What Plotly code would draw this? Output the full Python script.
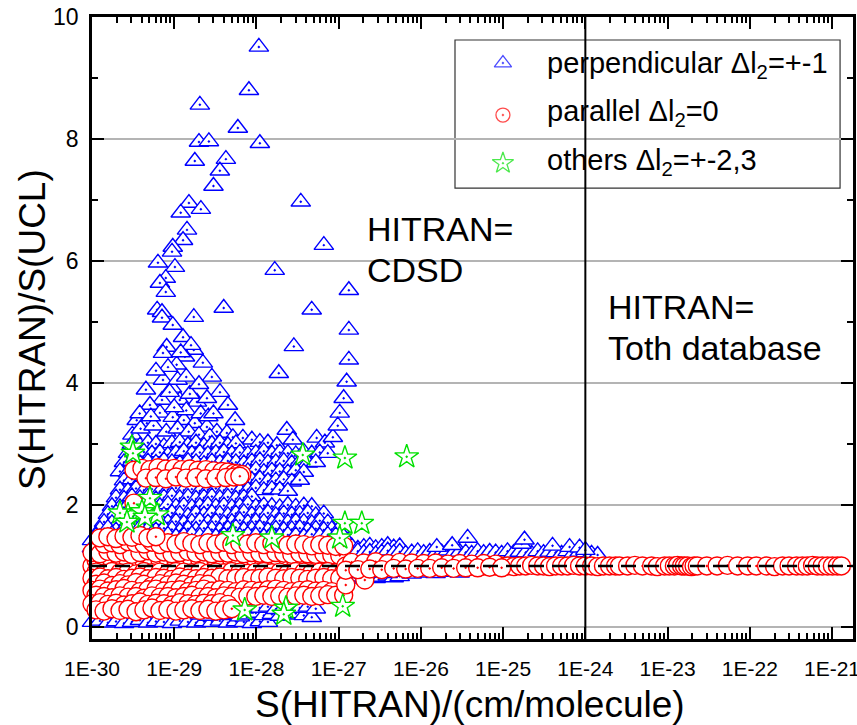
import plotly.graph_objects as go

# ---------------- perpendicular band (delta l2 = +-1) ----------------
perp_S_upper = [1.07e-28, 8.1e-29, 2.05e-29, 5.94e-29, 2.0e-29, 2.64e-29, 1.1e-28, 1.78e-29, 4.25e-29, 3.59e-29,
                3.0e-29, 3.46e-28, 1.51e-29, 1.2e-29, 2.11e-29, 1.43e-29, 1.28e-29, 9.6e-30, 6.6e-28, 9.4e-30,
                6.34e-30, 1.02e-29, 7.9e-30, 6.7e-30, 7.9e-30, 1.67e-28, 1.33e-27, 6.2e-30, 7.1e-30, 7.1e-30,
                9.6e-30, 1.73e-29, 4.0e-29, 4.7e-28, 1.33e-27, 1.28e-29, 1.73e-29, 8.1e-30, 7.3e-30, 2.85e-28,
                1.33e-27, 1.35e-29, 2.23e-29, 1.07e-29, 8.4e-30, 1.87e-28, 2.87e-29, 1.25e-27, 7.3e-30, 4.53e-30,
                9.4e-30, 3.6e-29, 1.15e-27, 1.89e-29, 1.17e-29, 7.1e-30, 4.5e-29, 1.03e-27, 5.07e-30, 5.5e-29,
                3.5e-30, 4.65e-30, 6.7e-30, 9.6e-30, 1.31e-29, 1.78e-29, 2.5e-29, 3.3e-29, 4.37e-29, 5.17e-29,
                6.84e-29, 8.8e-29, 1.1e-28, 1.38e-28, 1.77e-28, 2.34e-28, 2.77e-28, 5.4e-28, 6.8e-28, 8.5e-28,
                9.75e-28, 3.1e-30, 3.9e-30, 5.6e-30, 8.0e-30, 1.1e-29, 1.5e-29, 2.0e-29, 2.7e-29, 3.8e-30,
                5.2e-30, 1.4e-29, 2.1e-29, 2.6e-29, 1.0e-29, 1.55e-29, 6.0e-30, 1.1e-29, 1.4e-29, 2.0e-29,
                1.6e-29, 1.2e-29, 8.8e-30, 2.5e-29, 3.0e-29]
perp_R_upper = [9.51, 8.80, 8.56, 8.18, 7.95, 7.96, 7.93, 7.64, 7.67, 7.48,
                7.23, 6.97, 6.95, 6.79, 6.85, 6.51, 6.34, 6.23, 6.26, 6.15,
                5.97, 5.90, 5.72, 5.64, 5.49, 5.85, 5.52, 5.20, 5.16, 5.07,
                4.95, 5.08, 5.23, 5.20, 4.87, 4.75, 4.54, 4.59, 4.49, 4.60,
                4.38, 4.43, 4.33, 4.30, 4.26, 4.16, 4.10, 4.02, 4.05, 3.89,
                3.92, 3.85, 3.75, 3.69, 3.72, 3.72, 3.64, 3.51, 3.64, 3.39,
                3.39, 3.34, 3.51, 3.44, 3.39, 3.34, 3.28, 3.20, 3.18, 3.11,
                3.10, 3.07, 3.03, 3.02, 2.98, 3.23, 3.07, 3.10, 3.02, 3.11,
                3.30, 3.15, 3.25, 3.30, 3.20, 3.25, 3.20, 3.15, 3.12, 3.50,
                3.45, 3.55, 3.50, 3.45, 3.60, 3.82, 4.20, 4.05, 4.10, 3.98,
                4.62, 4.50, 3.85, 3.75, 3.50]

perp_S_cloud = [
    # ~3.0
    3.06e-30, 3.83e-30, 4.79e-30, 5.99e-30, 7.50e-30, 9.38e-30, 1.17e-29, 1.47e-29, 1.84e-29, 2.30e-29,
    2.87e-29, 3.59e-29, 4.49e-29, 5.62e-29,
    # ~2.85
    2.74e-30, 3.43e-30, 4.28e-30, 5.36e-30, 6.70e-30, 8.38e-30, 1.05e-29, 1.31e-29, 1.64e-29, 2.05e-29,
    2.57e-29, 3.21e-29, 4.02e-29, 5.02e-29, 6.28e-29, 7.86e-29, 9.83e-29, 1.23e-28, 1.54e-28, 1.92e-28,
    2.41e-28, 3.01e-28, 3.77e-28, 4.71e-28, 5.89e-28, 7.37e-28,
    # ~2.7
    2.45e-30, 3.06e-30, 3.83e-30, 4.79e-30, 5.99e-30, 7.50e-30, 9.38e-30, 1.17e-29, 1.47e-29, 1.84e-29,
    2.30e-29, 2.87e-29, 3.59e-29, 4.49e-29, 5.62e-29, 7.03e-29, 8.79e-29, 1.10e-28, 1.38e-28, 1.72e-28,
    2.15e-28, 2.69e-28, 3.37e-28, 4.21e-28, 5.27e-28,
    # ~2.55
    2.19e-30, 2.74e-30, 3.43e-30, 4.28e-30, 5.36e-30, 6.70e-30, 8.38e-30, 1.05e-29, 1.31e-29, 1.64e-29,
    2.05e-29, 2.57e-29, 3.21e-29, 4.02e-29, 5.02e-29, 6.28e-29, 7.86e-29, 9.83e-29, 1.23e-28, 1.54e-28,
    1.92e-28, 2.41e-28, 3.01e-28, 3.77e-28,
    # ~2.4
    2.45e-30, 3.06e-30, 3.83e-30, 4.79e-30, 5.99e-30, 7.50e-30, 9.38e-30, 1.17e-29, 1.47e-29, 1.84e-29,
    2.30e-29, 2.87e-29, 3.59e-29, 4.49e-29, 5.62e-29, 7.03e-29, 8.79e-29, 1.10e-28, 1.38e-28, 1.72e-28,
    2.15e-28, 2.69e-28, 3.37e-28,
    # ~2.25
    2.19e-30, 2.74e-30, 3.43e-30, 4.28e-30, 5.36e-30, 6.70e-30, 8.38e-30, 1.05e-29, 1.31e-29, 1.64e-29,
    2.05e-29, 2.57e-29, 3.21e-29, 4.02e-29, 5.02e-29, 6.28e-29, 7.86e-29, 9.83e-29, 1.23e-28, 1.54e-28,
    1.92e-28, 2.41e-28,
    # ~2.12
    1.96e-30, 2.45e-30, 3.06e-30, 3.83e-30, 4.79e-30, 5.99e-30, 7.50e-30, 9.38e-30, 1.17e-29, 1.47e-29,
    1.84e-29, 2.30e-29, 2.87e-29, 3.59e-29, 4.49e-29, 5.62e-29, 7.03e-29, 8.79e-29,
    # ~1.98
    1.75e-30, 2.19e-30, 2.74e-30, 3.43e-30, 4.28e-30, 5.36e-30, 6.70e-30, 8.38e-30, 1.05e-29, 1.31e-29,
    1.64e-29, 2.05e-29, 2.57e-29, 3.21e-29, 4.02e-29, 5.02e-29, 6.28e-29, 7.86e-29, 9.83e-29, 1.23e-28,
    1.54e-28, 1.92e-28, 2.41e-28, 3.01e-28, 3.77e-28, 4.71e-28,
    # ~1.85
    1.56e-30, 1.96e-30, 2.45e-30, 3.06e-30, 3.83e-30, 4.79e-30, 5.99e-30, 7.50e-30, 9.38e-30, 1.17e-29,
    1.47e-29, 1.84e-29, 2.30e-29, 2.87e-29, 3.59e-29, 4.49e-29, 5.62e-29, 7.03e-29, 8.79e-29, 1.10e-28,
    1.38e-28, 1.72e-28, 2.15e-28, 2.69e-28, 3.37e-28, 4.21e-28, 5.27e-28, 6.59e-28,
    # ~1.72
    1.40e-30, 1.75e-30, 2.19e-30, 2.74e-30, 3.43e-30, 4.28e-30, 5.36e-30, 6.70e-30, 8.38e-30, 1.05e-29,
    1.31e-29, 1.64e-29, 2.05e-29, 2.57e-29, 3.21e-29, 4.02e-29, 5.02e-29, 6.28e-29, 7.86e-29, 9.83e-29,
    1.23e-28, 1.54e-28, 1.92e-28, 2.41e-28, 3.01e-28, 3.77e-28, 4.71e-28, 5.89e-28, 7.37e-28,
    # ~1.6
    1.25e-30, 1.56e-30, 1.96e-30, 2.45e-30, 3.06e-30, 3.83e-30, 4.79e-30, 5.99e-30, 7.50e-30, 9.38e-30,
    1.17e-29, 1.47e-29, 1.84e-29, 2.30e-29, 2.87e-29, 3.59e-29, 4.49e-29, 5.62e-29, 7.03e-29, 8.79e-29,
    1.10e-28, 1.38e-28, 1.72e-28, 2.15e-28, 2.69e-28, 3.37e-28, 4.21e-28, 5.27e-28, 6.59e-28, 8.24e-28,
    1.03e-27,
    # ~1.5
    1.12e-30, 1.40e-30, 1.75e-30, 2.19e-30, 2.74e-30, 3.43e-30, 4.28e-30, 5.36e-30, 6.70e-30, 8.38e-30,
    1.05e-29, 1.31e-29, 1.64e-29, 2.05e-29, 2.57e-29, 3.21e-29, 4.02e-29, 5.02e-29, 6.28e-29, 7.86e-29,
    9.83e-29, 1.23e-28, 1.54e-28, 1.92e-28, 2.41e-28, 3.01e-28, 3.77e-28, 4.71e-28, 5.89e-28, 7.37e-28,
    9.22e-28, 1.15e-27,
    # left edge
    1.00e-30, 1.00e-30,
]
perp_R_cloud = [
    3.00, 2.97, 3.02, 3.00, 2.96, 3.01, 3.03, 2.98, 3.02, 2.97, 3.00, 3.02, 2.98, 3.01,
    2.85, 2.83, 2.87, 2.84, 2.86, 2.82, 2.85, 2.88, 2.84, 2.86, 2.83, 2.85, 2.87, 2.84, 2.86, 2.83,
    2.85, 2.88, 2.84, 2.86, 2.85, 2.83, 2.87, 2.84, 2.86, 2.85,
    2.70, 2.72, 2.68, 2.71, 2.69, 2.73, 2.70, 2.68, 2.72, 2.70, 2.67, 2.71, 2.69, 2.72, 2.70, 2.68,
    2.71, 2.73, 2.69, 2.70, 2.72, 2.68, 2.71, 2.69, 2.70,
    2.55, 2.53, 2.57, 2.54, 2.56, 2.52, 2.55, 2.58, 2.54, 2.56, 2.53, 2.55, 2.57, 2.54, 2.56, 2.53,
    2.55, 2.58, 2.54, 2.56, 2.55, 2.53, 2.57, 2.54,
    2.40, 2.42, 2.38, 2.41, 2.39, 2.43, 2.40, 2.38, 2.42, 2.40, 2.37, 2.41, 2.39, 2.42, 2.40, 2.38,
    2.41, 2.43, 2.39, 2.40, 2.42, 2.38, 2.41,
    2.25, 2.23, 2.27, 2.24, 2.26, 2.22, 2.25, 2.28, 2.24, 2.26, 2.23, 2.25, 2.27, 2.24, 2.26, 2.23,
    2.25, 2.28, 2.24, 2.26, 2.25, 2.23,
    2.12, 2.10, 2.14, 2.11, 2.13, 2.09, 2.12, 2.15, 2.11, 2.13, 2.10, 2.12, 2.14, 2.11, 2.13, 2.10,
    2.12, 2.14,
    1.98, 1.96, 2.00, 1.97, 1.99, 1.95, 1.98, 2.01, 1.97, 1.99, 1.96, 1.98, 2.00, 1.97, 1.99, 1.96,
    1.98, 2.01, 1.97, 1.99, 1.98, 1.96, 2.00, 1.97, 1.99, 1.98,
    1.85, 1.87, 1.83, 1.86, 1.84, 1.88, 1.85, 1.83, 1.87, 1.85, 1.82, 1.86, 1.84, 1.87, 1.85, 1.83,
    1.86, 1.88, 1.84, 1.85, 1.87, 1.83, 1.86, 1.84, 1.85, 1.87, 1.83, 1.86,
    1.72, 1.70, 1.74, 1.71, 1.73, 1.69, 1.72, 1.75, 1.71, 1.73, 1.70, 1.72, 1.74, 1.71, 1.73, 1.70,
    1.72, 1.75, 1.71, 1.73, 1.72, 1.70, 1.74, 1.71, 1.73, 1.72, 1.70, 1.74, 1.71,
    1.60, 1.62, 1.58, 1.61, 1.59, 1.63, 1.60, 1.58, 1.62, 1.60, 1.57, 1.61, 1.59, 1.62, 1.60, 1.58,
    1.61, 1.63, 1.59, 1.60, 1.62, 1.58, 1.61, 1.59, 1.60, 1.62, 1.58, 1.61, 1.59, 1.60, 1.62,
    1.50, 1.48, 1.52, 1.49, 1.51, 1.47, 1.50, 1.53, 1.49, 1.51, 1.48, 1.50, 1.52, 1.49, 1.51, 1.48,
    1.50, 1.53, 1.49, 1.51, 1.50, 1.48, 1.52, 1.49, 1.51, 1.50, 1.48, 1.52, 1.49, 1.51, 1.50, 1.48,
    1.42, 1.30,
]

perp_S_low = [
    1.00e-30, 1.25e-30, 1.56e-30, 1.96e-30, 2.45e-30, 3.06e-30, 3.83e-30, 4.79e-30, 5.99e-30, 7.50e-30,
    9.38e-30, 1.17e-29, 1.47e-29, 1.84e-29, 2.30e-29, 2.87e-29, 3.59e-29, 4.49e-29, 5.62e-29, 7.03e-29,
    8.79e-29, 1.10e-28, 1.38e-28,
    2.05e-29, 2.57e-29, 3.21e-29, 4.02e-29, 5.02e-29, 6.28e-29, 7.86e-29, 9.83e-29, 1.23e-28, 1.54e-28,
    1.92e-28, 2.41e-28, 3.01e-28, 3.77e-28, 4.71e-28,
    5.62e-29, 7.03e-29, 8.79e-29, 1.10e-28, 1.38e-28, 1.72e-28, 2.15e-28, 2.69e-28, 3.37e-28, 4.21e-28,
    5.27e-28,
    3.37e-28, 4.21e-28, 5.27e-28, 6.59e-28, 8.24e-28, 1.03e-27,
    1.22e-27, 1.44e-27, 1.71e-27, 2.02e-27, 2.39e-27, 2.82e-27, 3.34e-27, 3.95e-27, 4.67e-27, 5.52e-27,
    1.44e-27, 2.02e-27, 2.82e-27, 3.95e-27, 5.52e-27, 7.73e-27, 1.08e-26, 1.51e-26, 2.12e-26, 2.96e-26,
]
perp_R_low = [
    0.08, 0.10, 0.07, 0.09, 0.06, 0.08, 0.11, 0.07, 0.09, 0.08, 0.06, 0.10, 0.08, 0.07, 0.09, 0.08,
    0.10, 0.07, 0.09, 0.08, 0.06, 0.09, 0.08,
    0.20, 0.18, 0.22, 0.19, 0.21, 0.17, 0.20, 0.23, 0.19, 0.21, 0.18, 0.20, 0.22, 0.19, 0.16,
    0.32, 0.30, 0.34, 0.31, 0.33, 0.29, 0.32, 0.35, 0.31, 0.33, 0.30,
    0.72, 0.70, 0.74, 0.71, 0.73, 0.70,
    0.80, 0.82, 0.79, 0.81, 0.83, 0.80, 0.82, 0.84, 0.81, 0.83,
    0.88, 0.87, 0.89, 0.88, 0.90, 0.87, 0.89, 0.88, 0.90, 0.89,
]

perp_S_band = [
    1.22e-27, 1.44e-27, 1.71e-27, 2.02e-27, 2.39e-27, 2.82e-27, 3.34e-27, 3.95e-27, 4.67e-27, 5.52e-27,
    1.22e-27, 1.44e-27, 1.71e-27, 2.02e-27, 2.39e-27, 2.82e-27, 3.34e-27, 3.95e-27, 4.67e-27, 5.52e-27,
    6.53e-27, 7.73e-27, 9.14e-27, 1.08e-26, 1.28e-26, 1.51e-26, 1.79e-26, 2.12e-26, 2.50e-26, 2.96e-26,
    3.50e-26, 4.14e-26, 4.90e-26, 5.79e-26, 6.86e-26, 8.11e-26, 9.59e-26, 1.13e-25, 1.34e-25, 1.59e-25,
    1.88e-25, 2.22e-25, 2.63e-25, 3.10e-25, 3.67e-25, 4.34e-25, 5.14e-25, 6.08e-25, 7.19e-25, 8.50e-25,
    1.00e-24, 1.19e-24, 1.41e-24,
    1.56e-26, 2.40e-26, 3.70e-26, 1.68e-25, 1.82e-25, 3.99e-25, 6.43e-25, 8.50e-25, 1.00e-24,
]
perp_R_band = [
    1.30, 1.32, 1.28, 1.31, 1.33, 1.29, 1.31, 1.34, 1.30, 1.32,
    1.22, 1.20, 1.24, 1.21, 1.23, 1.19, 1.22, 1.25, 1.21, 1.23, 1.20, 1.22, 1.24, 1.21, 1.23, 1.20,
    1.22, 1.25, 1.21, 1.23, 1.22, 1.20, 1.24, 1.21, 1.23, 1.22, 1.20, 1.24, 1.21, 1.23, 1.22, 1.20,
    1.24, 1.21, 1.23, 1.22, 1.20, 1.24, 1.21, 1.23, 1.22, 1.20, 1.18,
    1.31, 1.34, 1.46, 1.36, 1.43, 1.33, 1.31, 1.30, 1.26,
]

# ---------------- parallel band (delta l2 = 0) ----------------
par_S_left = [
    # ~1.0
    1.00e-30, 1.25e-30, 1.56e-30, 1.96e-30, 2.45e-30, 3.06e-30, 3.83e-30, 4.79e-30, 5.99e-30, 7.50e-30,
    9.38e-30, 1.17e-29, 1.47e-29, 1.84e-29, 2.30e-29, 2.87e-29, 3.59e-29, 4.49e-29, 5.62e-29, 7.03e-29,
    8.79e-29, 1.10e-28, 1.38e-28, 1.72e-28, 2.15e-28, 2.69e-28, 3.37e-28, 4.21e-28, 5.27e-28, 6.59e-28,
    8.24e-28, 1.03e-27,
    # ~1.1
    1.12e-30, 1.40e-30, 1.75e-30, 2.19e-30, 2.74e-30, 3.43e-30, 4.28e-30, 5.36e-30, 6.70e-30, 8.38e-30,
    1.05e-29, 1.31e-29, 1.64e-29, 2.05e-29, 2.57e-29, 3.21e-29, 4.02e-29, 5.02e-29, 6.28e-29, 7.86e-29,
    9.83e-29, 1.23e-28, 1.54e-28, 1.92e-28, 2.41e-28, 3.01e-28, 3.77e-28, 4.71e-28, 5.89e-28, 7.37e-28,
    9.22e-28, 1.15e-27,
    # ~1.2
    1.00e-30, 1.25e-30, 1.56e-30, 1.96e-30, 2.45e-30, 3.06e-30, 3.83e-30, 4.79e-30, 5.99e-30, 7.50e-30,
    9.38e-30, 1.17e-29, 1.47e-29, 1.84e-29, 2.30e-29, 2.87e-29, 3.59e-29, 4.49e-29, 5.62e-29, 7.03e-29,
    8.79e-29, 1.10e-28, 1.38e-28, 1.72e-28, 2.15e-28, 2.69e-28, 3.37e-28, 4.21e-28, 5.27e-28, 6.59e-28,
    8.24e-28, 1.03e-27,
    # ~1.35
    1.40e-30, 1.75e-30, 2.19e-30, 2.74e-30, 3.43e-30, 4.28e-30, 5.36e-30, 6.70e-30, 8.38e-30, 1.05e-29,
    1.31e-29, 1.64e-29, 2.05e-29, 2.57e-29, 3.21e-29, 4.02e-29, 5.02e-29, 6.28e-29, 7.86e-29, 9.83e-29,
    1.23e-28, 1.54e-28, 1.92e-28, 2.41e-28, 3.01e-28, 3.77e-28, 4.71e-28, 5.89e-28, 7.37e-28, 9.22e-28,
    1.15e-27,
    # ~1.47
    1.25e-30, 1.56e-30, 1.96e-30, 2.45e-30, 3.06e-30, 3.83e-30, 4.79e-30, 5.99e-30,
    # ~0.9
    1.12e-30, 1.40e-30, 1.75e-30, 2.19e-30, 2.74e-30, 3.43e-30, 4.28e-30, 5.36e-30, 6.70e-30, 8.38e-30,
    1.05e-29, 1.31e-29, 1.64e-29, 2.05e-29, 2.57e-29, 3.21e-29, 4.02e-29, 5.02e-29, 6.28e-29, 7.86e-29,
    9.83e-29, 1.23e-28, 1.54e-28, 1.92e-28, 2.41e-28, 3.01e-28, 3.77e-28, 4.71e-28, 5.89e-28, 7.37e-28,
    9.22e-28, 1.15e-27,
    # ~0.8
    1.00e-30, 1.25e-30, 1.56e-30, 1.96e-30, 2.45e-30, 3.06e-30, 3.83e-30, 4.79e-30, 5.99e-30, 7.50e-30,
    9.38e-30, 1.17e-29, 1.47e-29, 1.84e-29, 2.30e-29, 2.87e-29, 3.59e-29, 4.49e-29, 5.62e-29, 7.03e-29,
    8.79e-29, 1.10e-28, 1.38e-28, 1.72e-28, 2.15e-28, 2.69e-28, 3.37e-28, 4.21e-28, 5.27e-28, 6.59e-28,
    8.24e-28, 1.03e-27,
    # ~0.7
    1.12e-30, 1.40e-30, 1.75e-30, 2.19e-30, 2.74e-30, 3.43e-30, 4.28e-30, 5.36e-30, 6.70e-30, 8.38e-30,
    1.05e-29, 1.31e-29, 1.64e-29, 2.05e-29, 2.57e-29,
    # ~0.6
    1.00e-30, 1.25e-30, 1.56e-30, 1.96e-30, 2.45e-30, 3.06e-30, 3.83e-30, 4.79e-30, 5.99e-30, 7.50e-30,
    9.38e-30, 1.17e-29, 1.47e-29, 1.84e-29, 2.30e-29, 2.87e-29, 3.59e-29, 4.49e-29, 5.62e-29, 7.03e-29,
    8.79e-29, 1.10e-28, 1.38e-28, 1.72e-28, 2.15e-28, 2.69e-28, 3.37e-28, 4.21e-28, 5.27e-28, 6.59e-28,
    8.24e-28,
    # ~0.5
    1.12e-30, 1.40e-30, 1.75e-30, 2.19e-30, 2.74e-30, 3.43e-30, 4.28e-30, 5.36e-30, 6.70e-30, 8.38e-30,
    1.05e-29, 1.31e-29, 1.64e-29, 2.05e-29, 2.57e-29, 3.21e-29, 4.02e-29, 5.02e-29, 6.28e-29, 7.86e-29,
    9.83e-29, 1.23e-28, 1.54e-28, 1.92e-28, 2.41e-28, 3.01e-28, 3.77e-28, 4.71e-28, 5.89e-28, 7.37e-28,
    9.22e-28, 1.15e-27,
    # ~0.38
    1.00e-30, 1.25e-30, 1.56e-30, 1.96e-30, 2.45e-30, 3.06e-30, 3.83e-30, 4.79e-30, 5.99e-30, 7.50e-30,
    9.38e-30, 1.17e-29, 1.47e-29, 1.84e-29, 2.30e-29, 2.87e-29, 3.59e-29, 4.49e-29,
    # ~0.28
    1.12e-30, 1.40e-30, 1.75e-30, 2.19e-30, 2.74e-30, 3.43e-30, 4.28e-30, 5.36e-30, 6.70e-30, 8.38e-30,
    1.05e-29, 1.31e-29, 1.64e-29, 2.05e-29, 2.57e-29, 3.21e-29, 4.02e-29, 5.02e-29,
    1.22e-27, 2.08e-27,
]
par_R_left = [
    1.00, 1.01, 0.99, 1.00, 1.02, 0.99, 1.00, 1.01, 0.98, 1.00, 1.01, 0.99, 1.00, 1.02, 1.00, 0.99,
    1.01, 1.00, 0.99, 1.01, 1.00, 1.00, 0.99, 1.01, 1.00, 1.00, 0.99, 1.01, 1.00, 1.00, 1.01, 1.00,
    1.10, 1.12, 1.09, 1.11, 1.10, 1.13, 1.09, 1.11, 1.10, 1.12, 1.09, 1.10, 1.11, 1.09, 1.12, 1.10,
    1.11, 1.09, 1.10, 1.12, 1.10, 1.09, 1.11, 1.10, 1.12, 1.09, 1.10, 1.11, 1.10, 1.09, 1.11, 1.10,
    1.22, 1.20, 1.24, 1.21, 1.23, 1.19, 1.22, 1.25, 1.21, 1.23, 1.20, 1.22, 1.24, 1.21, 1.23, 1.20,
    1.22, 1.21, 1.23, 1.20, 1.22, 1.21, 1.20, 1.22, 1.21, 1.19, 1.21, 1.20, 1.19, 1.20, 1.18, 1.17,
    1.36, 1.38, 1.35, 1.40, 1.37, 1.36, 1.39, 1.35, 1.38, 1.36, 1.40, 1.37, 1.35, 1.38, 1.36, 1.39,
    1.35, 1.37, 1.36, 1.38, 1.35, 1.37, 1.36, 1.34, 1.36, 1.35, 1.33, 1.35, 1.34, 1.32, 1.33,
    1.46, 1.48, 1.45, 1.49, 1.47, 1.50, 1.46, 1.48,
    0.90, 0.88, 0.91, 0.89, 0.90, 0.87, 0.91, 0.89, 0.90, 0.88, 0.91, 0.90, 0.89, 0.91, 0.88, 0.90,
    0.89, 0.91, 0.90, 0.88, 0.90, 0.91, 0.89, 0.90, 0.88, 0.91, 0.90, 0.89, 0.90, 0.91, 0.89, 0.90,
    0.80, 0.82, 0.79, 0.81, 0.78, 0.80, 0.82, 0.79, 0.81, 0.80, 0.78, 0.82, 0.80, 0.79, 0.81, 0.80,
    0.82, 0.79, 0.80, 0.81, 0.79, 0.80, 0.82, 0.80, 0.79, 0.81, 0.80, 0.78, 0.80, 0.81, 0.79, 0.80,
    0.70, 0.72, 0.68, 0.71, 0.69, 0.73, 0.70, 0.67, 0.71, 0.69, 0.72, 0.70, 0.68, 0.71, 0.70,
    0.60, 0.62, 0.59, 0.61, 0.63, 0.60, 0.58, 0.61, 0.62, 0.59, 0.60, 0.61, 0.58, 0.60, 0.62, 0.59,
    0.61, 0.60, 0.58, 0.61, 0.60, 0.59, 0.61, 0.62, 0.60, 0.58, 0.60, 0.61, 0.59, 0.60, 0.58,
    0.52, 0.50, 0.48, 0.51, 0.49, 0.50, 0.47, 0.51, 0.49, 0.50, 0.48, 0.50, 0.52, 0.49, 0.50, 0.48,
    0.51, 0.50, 0.49, 0.51, 0.50, 0.52, 0.50, 0.51, 0.49, 0.51, 0.52, 0.50, 0.51, 0.53, 0.52, 0.52,
    0.38, 0.40, 0.37, 0.39, 0.36, 0.38, 0.41, 0.37, 0.39, 0.38, 0.36, 0.40, 0.38, 0.37, 0.39, 0.38,
    0.40, 0.37,
    0.28, 0.26, 0.30, 0.27, 0.29, 0.25, 0.28, 0.31, 0.27, 0.29, 0.26, 0.28, 0.30, 0.27, 0.29, 0.26,
    0.28, 0.30,
    0.69, 0.77,
]

par_S_mid = [
    1.22e-27, 1.44e-27, 1.71e-27, 2.02e-27, 2.39e-27, 2.82e-27, 3.34e-27, 3.95e-27, 4.67e-27, 5.52e-27,
    6.53e-27, 7.73e-27, 9.14e-27, 1.08e-26, 1.28e-26, 1.51e-26, 1.79e-26, 2.12e-26, 2.50e-26, 2.96e-26,
    3.50e-26, 4.14e-26, 4.90e-26, 5.79e-26, 6.86e-26, 8.11e-26, 9.59e-26, 1.13e-25, 1.34e-25, 1.59e-25,
    1.88e-25, 2.22e-25, 2.63e-25, 3.10e-25, 3.67e-25, 4.34e-25, 5.14e-25, 6.08e-25, 7.19e-25, 8.50e-25,
    1.00e-24, 1.19e-24, 1.41e-24, 1.66e-24, 1.97e-24, 2.33e-24,
    1.44e-27, 2.02e-27, 2.82e-27, 3.95e-27, 5.52e-27, 7.73e-27, 1.08e-26, 1.51e-26, 2.12e-26, 2.96e-26,
    4.14e-26, 5.79e-26, 8.11e-26,
    1.22e-27, 1.71e-27, 2.39e-27, 3.34e-27, 4.67e-27, 6.53e-27, 9.14e-27, 1.28e-26, 1.79e-26, 2.50e-26,
    3.50e-26, 4.90e-26, 6.86e-26, 9.59e-26,
]
par_R_mid = [
    1.00, 1.01, 0.99, 1.00, 1.01, 1.00, 0.99, 1.00, 1.01, 1.00, 1.00, 0.99, 1.00, 1.01, 1.00, 1.00,
    0.99, 1.00, 1.01, 1.00, 1.00, 1.00, 0.99, 1.00, 1.01, 1.00, 1.00, 1.00, 0.99, 1.00, 1.00, 1.01,
    1.00, 1.00, 0.99, 1.00, 1.00, 1.00, 1.01, 1.00, 1.00, 1.00, 0.99, 1.00, 1.00, 1.00,
    1.06, 1.05, 1.07, 1.04, 1.06, 1.05, 1.04, 1.05, 1.03, 1.04, 1.03, 1.04, 1.03,
    0.93, 0.94, 0.95, 0.94, 0.96, 0.95, 0.96, 0.96, 0.97, 0.96, 0.97, 0.97, 0.98, 0.97,
]

par_S_right = [
    2.6e-24, 3.26e-24, 4.0e-24, 4.95e-24, 6.4e-24, 7.5e-24, 9.2e-24, 1.05e-23, 1.21e-23, 1.32e-23,
    1.48e-23, 1.6e-23, 1.75e-23, 1.95e-23, 2.1e-23, 2.3e-23, 3.0e-23, 4.0e-23, 5.35e-23, 7.1e-23,
    9.4e-23, 1.2e-22, 1.6e-22, 2.0e-22, 2.5e-22, 3.0e-22, 3.7e-22, 4.35e-22, 5.0e-22, 5.8e-22,
    6.6e-22, 7.6e-22, 8.8e-22, 1.01e-21, 1.16e-21, 1.3e-21,
]
par_R_right = [
    1.00, 1.00, 1.01, 1.00, 1.00, 0.99, 1.00, 1.00, 1.00, 1.01, 1.00, 1.00, 1.00, 0.99, 1.00, 1.00,
    1.00, 1.00, 1.01, 1.00, 1.00, 1.00, 1.00, 0.99, 1.00, 1.00, 1.00, 1.00, 1.00, 1.01, 1.00, 1.00,
    1.00, 1.00, 1.00, 1.00,
]

par_S_high = [
    3.24e-30, 4.05e-30, 5.07e-30, 6.34e-30, 7.93e-30, 1.00e-29, 1.24e-29, 1.55e-29, 1.94e-29, 2.43e-29,
    3.03e-29, 3.80e-29, 4.49e-29, 5.32e-29, 5.94e-29, 6.65e-29,
    4.53e-30, 5.99e-30, 7.93e-30, 1.05e-29, 1.39e-29, 1.84e-29, 2.43e-29, 3.21e-29, 4.25e-29, 5.32e-29,
    6.28e-29,
    3.24e-30,
]
par_R_high = [
    2.57, 2.60, 2.58, 2.61, 2.59, 2.60, 2.58, 2.59, 2.57, 2.58, 2.56, 2.55, 2.54, 2.52, 2.51, 2.50,
    2.44, 2.45, 2.43, 2.46, 2.44, 2.45, 2.43, 2.44, 2.45, 2.46, 2.47,
    2.03,
]

# ---------------- others (delta l2 = +-2,3) ----------------
# points partly covered by the parallel band at the left edge
oth_S_edge = [9.0e-31, 9.6e-31]
oth_R_edge = [1.05, 0.95]
oth_S = [3.06e-30, 3.15e-30, 2.74e-30, 4.79e-30, 5.07e-30, 4.05e-30, 6.2e-30, 2.19e-30,
         2.66e-30, 4.4e-30, 3.66e-28, 1.19e-27, 6.72e-27, 1.19e-27, 1.91e-27, 1.03e-27, 5.17e-29, 1.54e-28,
         7.2e-29, 2.28e-28, 1.12e-27, 2.15e-28]
oth_R = [2.95, 2.85, 1.84, 1.95, 2.11, 1.89, 1.84, 1.87,
         1.72, 1.80, 2.82, 2.77, 2.79, 1.70, 1.70, 1.46, 1.50, 1.46,
         0.28, 0.31, 0.34, 0.21]

# axis ticks
x_tick_vals = [1e-30, 1e-29, 1e-28, 1e-27, 1e-26, 1e-25, 1e-24, 1e-23, 1e-22, 1e-21]
x_tick_text = ["1E-30", "1E-29", "1E-28", "1E-27", "1E-26", "1E-25", "1E-24", "1E-23", "1E-22", "1E-21"]
y_tick_vals = [0, 2, 4, 6, 8, 10]
y_minor_vals = [1, 3, 5, 7, 9]

legend_labels = ["perpendicular \u0394l<sub>2</sub>=+-1",
                 "parallel \u0394l<sub>2</sub>=0",
                 "others \u0394l<sub>2</sub>=+-2,3"]

perp_S = perp_S_upper + perp_S_cloud + perp_S_low + perp_S_band
perp_R = perp_R_upper + perp_R_cloud + perp_R_low + perp_R_band
par_S = par_S_left + par_S_mid + par_S_right + par_S_high
par_R = par_R_left + par_R_mid + par_R_right + par_R_high
assert len(perp_S) == len(perp_R), (len(perp_S), len(perp_R))
assert len(par_S) == len(par_R), (len(par_S), len(par_R))
assert len(oth_S) == len(oth_R)

FONT = "Liberation Sans, Arial, sans-serif"
BLUE, RED, GREEN = "#0000ff", "#ff0000", "#00e000"

tri = dict(symbol="triangle-up-dot", size=17, color="white", line=dict(color=BLUE, width=1.4))
circ = dict(symbol="circle-dot", size=18, color="white", line=dict(color=RED, width=1.4))
star = dict(symbol="star-dot", size=18, color="white", line=dict(color=GREEN, width=1.4))

fig = go.Figure()
fig.add_trace(go.Scatter(x=perp_S, y=perp_R, mode="markers", cliponaxis=False, showlegend=False, marker=tri))
fig.add_trace(go.Scatter(x=oth_S_edge, y=oth_R_edge, mode="markers", cliponaxis=False, showlegend=False, marker=star))
fig.add_trace(go.Scatter(x=par_S, y=par_R, mode="markers", cliponaxis=False, showlegend=False, marker=circ))
fig.add_trace(go.Scatter(x=oth_S, y=oth_R, mode="markers", cliponaxis=False, showlegend=False, marker=star))

# reference lines: ratio = 1 and the 1E-24 boundary
fig.add_trace(go.Scatter(x=[1e-30, 1.8e-21], y=[1, 1], mode="lines", showlegend=False,
                         line=dict(color="black", width=2.5, dash="15px,8px")))
fig.add_trace(go.Scatter(x=[1e-24, 1e-24], y=[-0.2, 10], mode="lines", showlegend=False,
                         line=dict(color="black", width=2)))

# legend symbols on an overlay axis spanning the plot area
fig.add_trace(go.Scatter(
    x=[0.540, 0.540, 0.540], y=[0.926, 0.8424, 0.765], xaxis="x2", yaxis="y2",
    mode="markers", showlegend=False, cliponaxis=False,
    marker=dict(symbol=["triangle-up-dot", "circle-dot", "star-dot"], size=[15, 14, 16],
                color="white", line=dict(color=[BLUE, RED, GREEN], width=1.3)),
))

minor_x = [m * 10.0 ** e for e in range(-30, -20) for m in range(2, 10)]

fig.update_layout(
    width=857, height=725,
    margin=dict(l=92, r=4, t=17, b=86, autoexpand=False),
    paper_bgcolor="white", plot_bgcolor="white",
    font=dict(family=FONT, color="black"),
    xaxis=dict(
        type="log", range=[-30, -20.745], automargin=False,
        showline=True, linecolor="black", linewidth=2.5, mirror="ticks",
        ticks="inside", ticklen=12, tickwidth=2, tickcolor="black",
        tickmode="array", tickvals=x_tick_vals, ticktext=x_tick_text,
        tickfont=dict(size=21, family=FONT), ticklabelstandoff=9,
        ticklabeloverflow="allow",
        minor=dict(ticks="inside", ticklen=6, tickwidth=1.5, tickcolor="black",
                   tickmode="array", tickvals=minor_x, showgrid=False),
        showgrid=False, zeroline=False,
    ),
    yaxis=dict(
        range=[-0.197, 10], automargin=False,
        showline=True, linecolor="black", linewidth=2.5, mirror="ticks",
        ticks="inside", ticklen=12, tickwidth=2, tickcolor="black",
        tickmode="array", tickvals=y_tick_vals,
        tickfont=dict(size=23, family=FONT), ticklabelstandoff=6,
        minor=dict(ticks="inside", ticklen=6, tickwidth=1.5, tickcolor="black",
                   tickmode="array", tickvals=y_minor_vals, showgrid=False),
        showgrid=True, gridcolor="#b4b4b4", gridwidth=1.5, zeroline=False,
    ),
    xaxis2=dict(overlaying="x", range=[0, 1], visible=False, automargin=False),
    yaxis2=dict(overlaying="y", range=[0, 1], visible=False, automargin=False),
    shapes=[dict(type="rect", xref="paper", yref="paper", x0=0.477, x1=0.983, y0=0.725, y1=0.963,
                 line=dict(color="#333333", width=1.2), fillcolor="white", layer="between")],
)

annotations = []
for label, yy in zip(legend_labels, [0.9228, 0.8457, 0.7669]):
    annotations.append(dict(text=label, x=0.5953, y=yy, xref="paper", yref="paper",
                            xanchor="left", yanchor="middle", showarrow=False,
                            font=dict(size=29, family=FONT)))
annotations += [
    dict(text="HITRAN=", x=0.3587, y=0.659, xref="paper", yref="paper", xanchor="left",
         yanchor="middle", showarrow=False, font=dict(size=34, family=FONT)),
    dict(text="CDSD", x=0.3587, y=0.593, xref="paper", yref="paper", xanchor="left",
         yanchor="middle", showarrow=False, font=dict(size=34, family=FONT)),
    dict(text="HITRAN=", x=0.6754, y=0.534, xref="paper", yref="paper", xanchor="left",
         yanchor="middle", showarrow=False, font=dict(size=34, family=FONT)),
    dict(text="Toth database", x=0.6754, y=0.468, xref="paper", yref="paper", xanchor="left",
         yanchor="middle", showarrow=False, font=dict(size=34, family=FONT)),
    dict(text="S(HITRAN)/(cm/molecule)", x=0.4967, y=-0.106, xref="paper", yref="paper",
         xanchor="center", yanchor="middle", showarrow=False, font=dict(size=37, family=FONT)),
    dict(text="S(HITRAN)/S(UCL)", x=-0.0775, y=0.497, xref="paper", yref="paper", textangle=-90,
         xanchor="center", yanchor="middle", showarrow=False, font=dict(size=37, family=FONT)),
]
fig.update_layout(annotations=annotations)

fig.write_html("out.html")
